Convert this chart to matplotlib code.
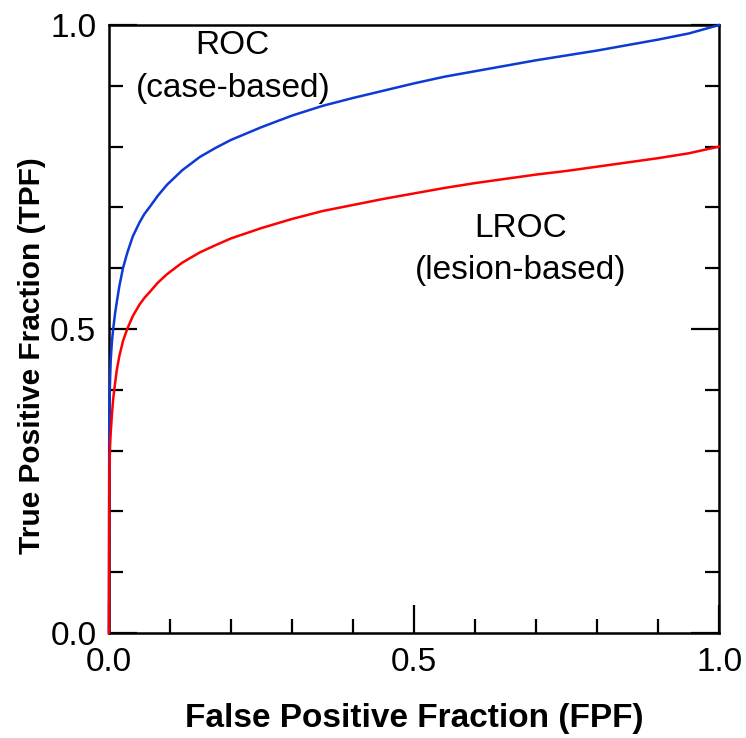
import matplotlib
matplotlib.use('Agg')
import matplotlib.pyplot as plt
from matplotlib.ticker import MultipleLocator, FixedLocator

plt.rcParams['font.family'] = ['Liberation Sans', 'DejaVu Sans']

# false positive fraction samples shared by both curves
fpf = [0.0, 0.0005, 0.001, 0.002, 0.003, 0.005, 0.007, 0.01, 0.013, 0.017,
       0.023, 0.03, 0.039, 0.05, 0.058, 0.067, 0.08, 0.095, 0.12, 0.149, 0.175,
       0.2, 0.25, 0.3, 0.35, 0.4, 0.45, 0.5, 0.55, 0.6, 0.65,
       0.7, 0.75, 0.8, 0.85, 0.9, 0.95, 1.0]

# ROC curve (case-based)
roc_tpf = [0.0, 0.33, 0.38, 0.42, 0.45, 0.48, 0.50, 0.525, 0.545, 0.57,
           0.60, 0.625, 0.652, 0.675, 0.689, 0.701, 0.719, 0.737, 0.761, 0.783, 0.798,
           0.811, 0.832, 0.851, 0.867, 0.880, 0.892, 0.904, 0.915, 0.924, 0.933,
           0.942, 0.950, 0.958, 0.967, 0.976, 0.986, 1.0]

# LROC curve (lesion-based)
lroc_tpf = [0.0, 0.22, 0.28, 0.31, 0.33, 0.36, 0.385, 0.41, 0.433, 0.455,
            0.48, 0.50, 0.521, 0.540, 0.551, 0.561, 0.576, 0.590, 0.609, 0.626, 0.638,
            0.649, 0.666, 0.681, 0.694, 0.704, 0.714, 0.723, 0.732, 0.740, 0.747,
            0.754, 0.760, 0.767, 0.774, 0.781, 0.789, 0.80]

major_ticks = [0.0, 0.5, 1.0]
tick_labels = ['0.0', '0.5', '1.0']

fig = plt.figure(figsize=(7.46, 7.38), dpi=100)
fig.patch.set_facecolor('white')
ax = fig.add_axes([0.146, 0.1423, 0.818, 0.8238])

ax.plot(fpf, roc_tpf, color='#0b3ad6', lw=1.8, zorder=5, clip_on=False,
        solid_joinstyle='round')
ax.plot(fpf, lroc_tpf, color='#ff0000', lw=1.8, zorder=6, clip_on=False,
        solid_joinstyle='round')

ax.set_xlim(0, 1)
ax.set_ylim(0, 1)

for s in ax.spines.values():
    s.set_linewidth(1.8)

ax.xaxis.set_major_locator(FixedLocator(major_ticks))
ax.yaxis.set_major_locator(FixedLocator(major_ticks))
ax.xaxis.set_minor_locator(MultipleLocator(0.1))
ax.yaxis.set_minor_locator(MultipleLocator(0.1))
ax.set_xticklabels(tick_labels)
ax.set_yticklabels(tick_labels)

ax.tick_params(axis='x', which='both', direction='in', top=False, bottom=True,
               width=1.6, labelsize=24, pad=10)
ax.tick_params(axis='y', which='both', direction='in', left=True, right=True,
               width=1.6, labelsize=24, pad=9)
ax.tick_params(which='major', length=20)
ax.tick_params(which='minor', length=10)

ax.set_xlabel('False Positive Fraction (FPF)', fontsize=24, fontweight='bold', labelpad=18)
ax.set_ylabel('True Positive Fraction (TPF)', fontsize=21.5, fontweight='bold')
ax.yaxis.set_label_coords(-0.103, 0.456)

ax.text(0.203, 0.967, 'ROC', ha='center', va='center', fontsize=24)
ax.text(0.203, 0.896, '(case-based)', ha='center', va='center', fontsize=24)
ax.text(0.675, 0.666, 'LROC', ha='center', va='center', fontsize=24)
ax.text(0.675, 0.597, '(lesion-based)', ha='center', va='center', fontsize=24)

plt.savefig('out.png', dpi=100, facecolor='white')
